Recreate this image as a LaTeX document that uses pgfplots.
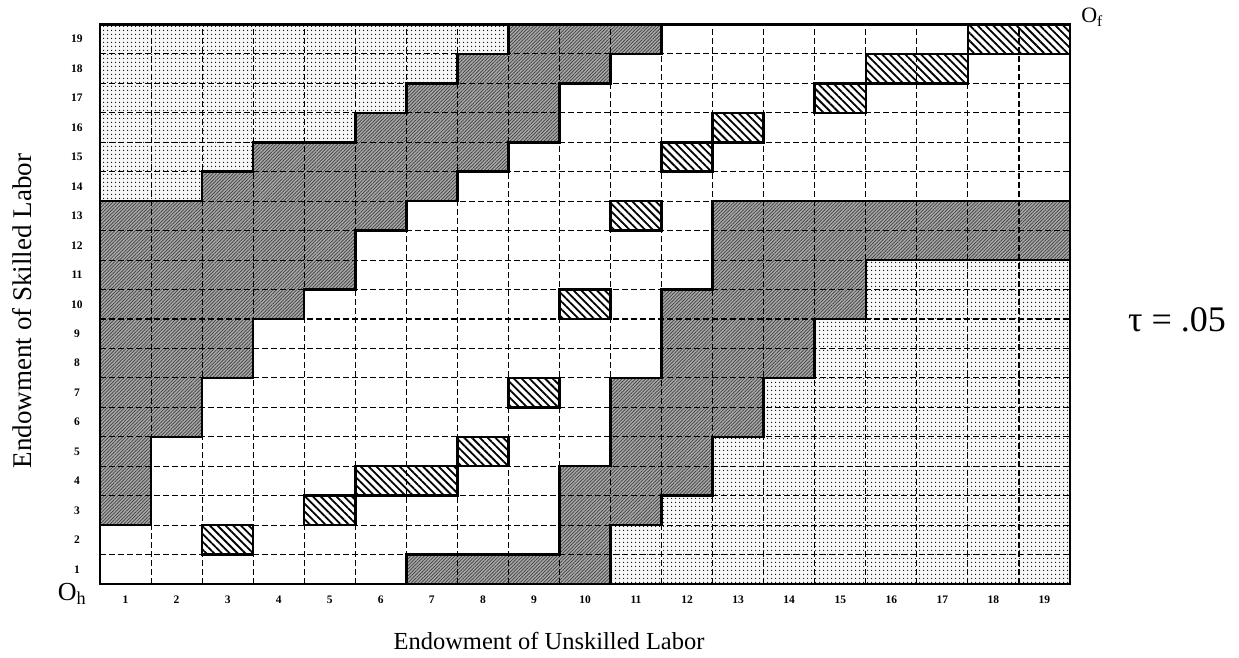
\documentclass[border=0pt]{standalone}
\usepackage{fontspec}
\setmainfont{Liberation Serif}
\usepackage{pgfplots}
\pgfplotsset{compat=1.18}
\usetikzlibrary{patterns.meta}
\definecolor{lightfill}{gray}{0.97}
\definecolor{darkfill}{gray}{0.66}
\definecolor{hatchline}{gray}{0.25}
\begin{document}
\begin{tikzpicture}
\useasboundingbox (-100pt,-74pt) rectangle (1139pt,584pt);
\begin{axis}[
  at={(0pt,0pt)}, anchor=south west,
  width=970pt, height=559.5pt, scale only axis,
  xmin=0.5, xmax=19.5, ymin=0.5, ymax=19.5,
  xtick={1,2,3,4,5,6,7,8,9,10,11,12,13,14,15,16,17,18,19},
  ytick={1,2,3,4,5,6,7,8,9,10,11,12,13,14,15,16,17,18,19},
  minor xtick={1.5,2.5,3.5,4.5,5.5,6.5,7.5,8.5,9.5,10.5,11.5,12.5,13.5,14.5,15.5,16.5,17.5,18.5},
  minor ytick={1.5,2.5,3.5,4.5,5.5,6.5,7.5,8.5,9.5,10.5,11.5,12.5,13.5,14.5,15.5,16.5,17.5,18.5},
  major tick length=0pt, minor tick length=0pt,
  xmajorgrids=false, ymajorgrids=false,
  xminorgrids=true, yminorgrids=true,
  minor grid style={black, line width=1.1pt, dash pattern=on 6pt off 3pt},
  axis on top,
  axis line style={line width=2.5pt},
  /pgf/number format/assume math mode=true,
  ticklabel style={font=\bfseries\fontsize{11.5}{13}\selectfont},
  xticklabel style={anchor=center, yshift=-16pt},
  yticklabel style={anchor=center, xshift=-23pt},
  xlabel={Endowment of Unskilled Labor},
  ylabel={Endowment of Skilled Labor},
  xlabel style={at={(axis description cs:0.4629,-0.1019)}, anchor=center, font=\fontsize{24.5}{28}\selectfont},
  ylabel style={at={(axis description cs:-0.0804,0.488)}, anchor=center, rotate=0, font=\fontsize{27}{30}\selectfont},
  clip=false,
  region/.style={draw=black, line width=2.5pt, line join=miter},
  dotreg/.style={region, preaction={fill=lightfill}, pattern={Dots[distance=4pt,radius=0.8pt]}, pattern color=black},
  darkreg/.style={region, preaction={fill=darkfill}, pattern={Lines[angle=45,distance=2.4pt,line width=0.7pt]}, pattern color=hatchline},
  hatchcell/.style={region, preaction={fill=white}, pattern={Lines[angle=-45,distance=5.5pt,line width=1.8pt]}, pattern color=black},
]
% upper-left light dotted region
\addplot[dotreg] coordinates {(0.5,19.5) (8.5,19.5) (8.5,18.5) (7.5,18.5) (7.5,17.5) (6.5,17.5) (6.5,16.5) (5.5,16.5) (5.5,15.5) (3.5,15.5) (3.5,14.5) (2.5,14.5) (2.5,13.5) (0.5,13.5)} -- cycle;
% upper-left dark region
\addplot[darkreg] coordinates {(8.5,19.5) (11.5,19.5) (11.5,18.5) (10.5,18.5) (10.5,17.5) (9.5,17.5) (9.5,15.5) (8.5,15.5) (8.5,14.5) (7.5,14.5) (7.5,13.5) (6.5,13.5) (6.5,12.5) (5.5,12.5) (5.5,10.5) (4.5,10.5) (4.5,9.5) (3.5,9.5) (3.5,7.5) (2.5,7.5) (2.5,5.5) (1.5,5.5) (1.5,2.5) (0.5,2.5) (0.5,13.5) (2.5,13.5) (2.5,14.5) (3.5,14.5) (3.5,15.5) (5.5,15.5) (5.5,16.5) (6.5,16.5) (6.5,17.5) (7.5,17.5) (7.5,18.5) (8.5,18.5)} -- cycle;
% lower-right dark region
\addplot[darkreg] coordinates {(12.5,13.5) (19.5,13.5) (19.5,11.5) (15.5,11.5) (15.5,9.5) (14.5,9.5) (14.5,7.5) (13.5,7.5) (13.5,5.5) (12.5,5.5) (12.5,3.5) (11.5,3.5) (11.5,2.5) (10.5,2.5) (10.5,0.5) (6.5,0.5) (6.5,1.5) (9.5,1.5) (9.5,4.5) (10.5,4.5) (10.5,7.5) (11.5,7.5) (11.5,10.5) (12.5,10.5)} -- cycle;
% lower-right light dotted region
\addplot[dotreg] coordinates {(15.5,11.5) (19.5,11.5) (19.5,0.5) (10.5,0.5) (10.5,2.5) (11.5,2.5) (11.5,3.5) (12.5,3.5) (12.5,5.5) (13.5,5.5) (13.5,7.5) (14.5,7.5) (14.5,9.5) (15.5,9.5)} -- cycle;
% hatched cells
\addplot[hatchcell] coordinates {(2.5,1.5) (3.5,1.5) (3.5,2.5) (2.5,2.5)} -- cycle;
\addplot[hatchcell] coordinates {(4.5,2.5) (5.5,2.5) (5.5,3.5) (4.5,3.5)} -- cycle;
\addplot[hatchcell] coordinates {(5.5,3.5) (7.5,3.5) (7.5,4.5) (5.5,4.5)} -- cycle;
\addplot[hatchcell] coordinates {(7.5,4.5) (8.5,4.5) (8.5,5.5) (7.5,5.5)} -- cycle;
\addplot[hatchcell] coordinates {(8.5,6.5) (9.5,6.5) (9.5,7.5) (8.5,7.5)} -- cycle;
\addplot[hatchcell] coordinates {(9.5,9.5) (10.5,9.5) (10.5,10.5) (9.5,10.5)} -- cycle;
\addplot[hatchcell] coordinates {(10.5,12.5) (11.5,12.5) (11.5,13.5) (10.5,13.5)} -- cycle;
\addplot[hatchcell] coordinates {(11.5,14.5) (12.5,14.5) (12.5,15.5) (11.5,15.5)} -- cycle;
\addplot[hatchcell] coordinates {(12.5,15.5) (13.5,15.5) (13.5,16.5) (12.5,16.5)} -- cycle;
\addplot[hatchcell] coordinates {(14.5,16.5) (15.5,16.5) (15.5,17.5) (14.5,17.5)} -- cycle;
\addplot[hatchcell] coordinates {(15.5,17.5) (17.5,17.5) (17.5,18.5) (15.5,18.5)} -- cycle;
\addplot[hatchcell] coordinates {(17.5,18.5) (19.5,18.5) (19.5,19.5) (17.5,19.5)} -- cycle;
% annotations
\node[font=\fontsize{36}{40}\selectfont] at (axis description cs:1.1103,0.4718) {τ = .05};
\node[font=\fontsize{22}{26}\selectfont] at (axis description cs:1.0227,1.0134) {O\textsubscript{f}};
\node[font=\fontsize{26}{30}\selectfont] at (axis description cs:-0.0289,-0.0179) {O\textsubscript{h}};
\end{axis}
\end{tikzpicture}
\end{document}
